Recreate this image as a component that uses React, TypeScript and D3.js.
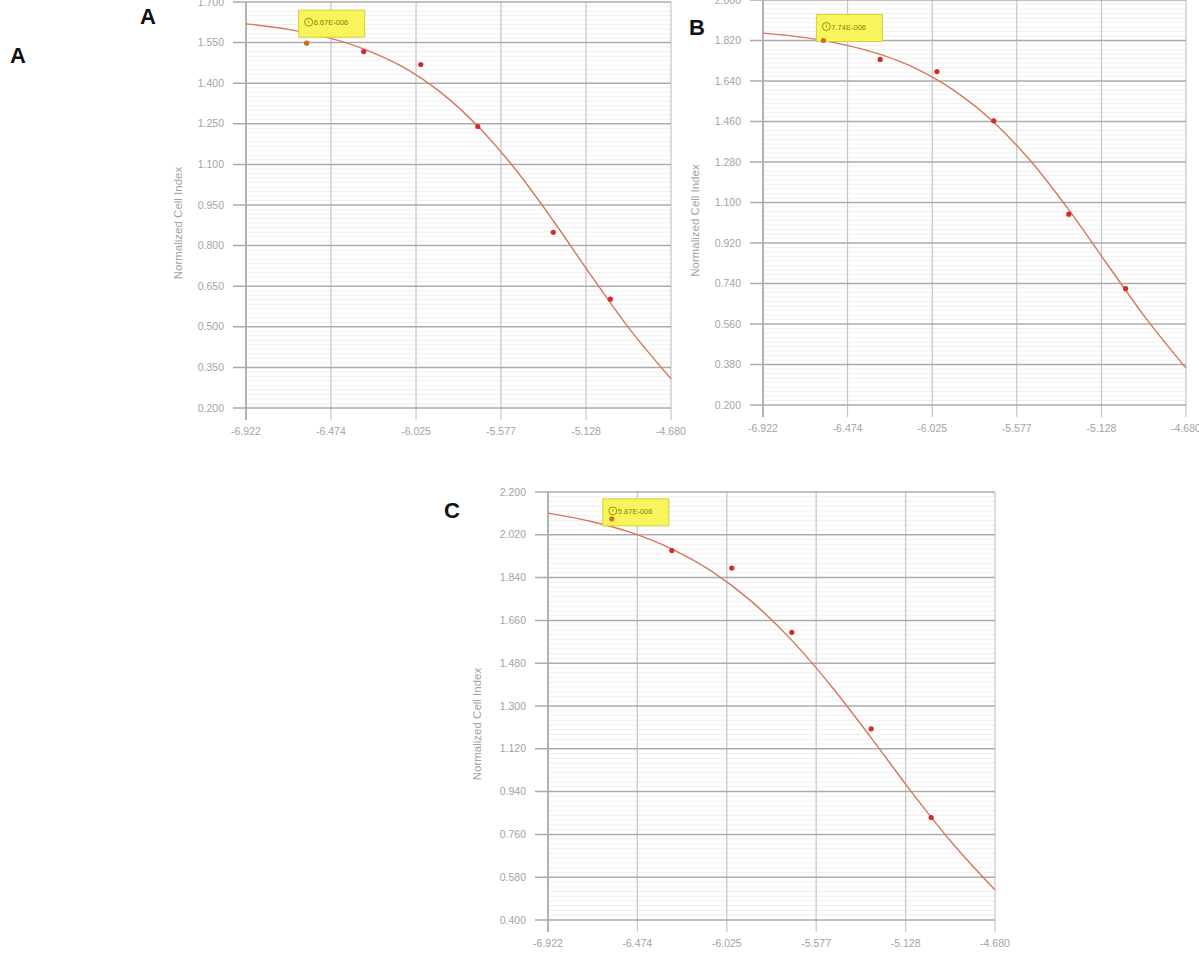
import React from "react";
import * as d3 from "d3";

// ---------- data ----------
const xTickValues = [-6.922, -6.474, -6.025, -5.577, -5.128, -4.68];
const xTickLabels = ["-6.922", "-6.474", "-6.025", "-5.577", "-5.128", "-4.680"];

// log10 of concentration (M) for the six doses
const doseLog = [-6.602, -6.301, -6.0, -5.699, -5.301, -5.0];

const cellIndexA = [1.548, 1.517, 1.469, 1.24, 0.849, 0.602];
const cellIndexB = [1.82, 1.736, 1.682, 1.463, 1.048, 0.717];
const cellIndexC = [2.087, 1.954, 1.88, 1.61, 1.204, 0.831];

// fitted curve
const curveX = [-6.922, -6.7, -6.5, -6.3, -6.1, -5.9, -5.7, -5.5, -5.3, -5.1, -4.9, -4.68];
const fitA = [1.619, 1.599, 1.57, 1.526, 1.462, 1.369, 1.242, 1.081, 0.891, 0.688, 0.493, 0.308];
const fitB = [1.853, 1.833, 1.803, 1.758, 1.691, 1.593, 1.458, 1.281, 1.066, 0.829, 0.594, 0.364];
const fitC = [2.111, 2.075, 2.028, 1.96, 1.866, 1.739, 1.577, 1.382, 1.165, 0.94, 0.729, 0.526];

const yTicksA = [0.2, 0.35, 0.5, 0.65, 0.8, 0.95, 1.1, 1.25, 1.4, 1.55, 1.7];
const yTicksB = [0.2, 0.38, 0.56, 0.74, 0.92, 1.1, 1.28, 1.46, 1.64, 1.82, 2.0];
const yTicksC = [0.4, 0.58, 0.76, 0.94, 1.12, 1.3, 1.48, 1.66, 1.84, 2.02, 2.2];

const ic50Labels = ["6.67E-006", "7.74E-006", "5.87E-006"];
const panelLetters = ["A", "B", "C"];
const yTitle = "Normalized Cell Index";

// ---------- layout ----------
const panels = [
  { left: 246, right: 671, top: 2, bottom: 408, values: cellIndexA, fit: fitA, yTicks: yTicksA, titleX: 178, tip: [-8, -33], letterPos: [140, 24] },
  { left: 763, right: 1186, top: 0, bottom: 405, values: cellIndexB, fit: fitB, yTicks: yTicksB, titleX: 695, tip: [-7, -26], letterPos: [689, 35] },
  { left: 548, right: 995, top: 492, bottom: 920, values: cellIndexC, fit: fitC, yTicks: yTicksC, titleX: 477, tip: [-9, -20], letterPos: [444, 518] },
];

const MINOR = 9;
const FONT = "Liberation Sans, Arial, sans-serif";
const LABEL = "#a3a3a3";

function Panel({ p, i }: { p: any; i: number }) {
  const x = d3.scaleLinear().domain([xTickValues[0], xTickValues[xTickValues.length - 1]]).range([p.left, p.right]);
  const yt = p.yTicks as number[];
  const y = d3.scaleLinear().domain([yt[0], yt[yt.length - 1]]).range([p.bottom, p.top]);
  const fmt = d3.format(".3f");
  const line = d3
    .line<number>()
    .x((_, k) => x(curveX[k]))
    .y((v) => y(v))
    .curve(d3.curveMonotoneX);

  const minors: number[] = [];
  for (let k = 0; k < yt.length - 1; k++) {
    for (let m = 1; m < MINOR; m++) minors.push(yt[k] + ((yt[k + 1] - yt[k]) * m) / MINOR);
  }
  const px0 = x(doseLog[0]);
  const py0 = y(p.values[0]);
  const tipX = px0 + p.tip[0];
  const tipY = py0 + p.tip[1];
  const midY = (p.top + p.bottom) / 2 + 18;

  return (
    <g>
      <rect x={p.left} y={p.top} width={p.right - p.left} height={p.bottom - p.top} fill="#fff" />
      {minors.map((v, k) => (
        <line key={"mn" + k} x1={p.left} x2={p.right} y1={y(v)} y2={y(v)} stroke="#f0f0f0" strokeWidth={1} />
      ))}
      {xTickValues.map((v, k) => (
        <line key={"vx" + k} x1={x(v)} x2={x(v)} y1={p.top} y2={p.bottom + 12} stroke={k === 0 ? "#9a9a9a" : "#c6c6c6"} strokeWidth={k === 0 ? 1.5 : 1.2} />
      ))}
      {yt.map((v, k) => (
        <line key={"hy" + k} x1={p.left - 13} x2={p.right} y1={y(v)} y2={y(v)} stroke="#ababab" strokeWidth={1.5} />
      ))}
      {yt.map((v, k) => (
        <text key={"yl" + k} x={p.left - 22} y={y(v)} dy="0.35em" textAnchor="end" fontSize={10.5} fill={LABEL} fontFamily={FONT}>
          {fmt(v)}
        </text>
      ))}
      {xTickValues.map((v, k) => (
        <text key={"xl" + k} x={x(v)} y={p.bottom + 27} textAnchor="middle" fontSize={10.5} fill={LABEL} fontFamily={FONT}>
          {xTickLabels[k]}
        </text>
      ))}
      <text
        transform={`translate(${p.titleX},${midY}) rotate(-90)`}
        textAnchor="middle"
        dy="0.35em"
        fontSize={11.5}
        fill={LABEL}
        fontFamily={FONT}
      >
        {yTitle}
      </text>
      <path d={line(p.fit) || ""} fill="none" stroke="#d5775c" strokeWidth={1.4} />
      <g>
        <rect x={tipX} y={tipY} width={66} height={27} fill="#f8f55c" stroke="#d6cf3a" strokeWidth={1} />
        <circle cx={tipX + 10} cy={tipY + 12} r={4} fill="none" stroke="#a08c10" strokeWidth={1} />
        <line x1={tipX + 10} x2={tipX + 10} y1={tipY + 10} y2={tipY + 13} stroke="#a08c10" strokeWidth={0.8} />
        <text x={tipX + 15} y={tipY + 15} fontSize={7.5} fill="#8a7e10" fontFamily={FONT}>
          {ic50Labels[i]}
        </text>
      </g>
      {p.values.map((v: number, k: number) => (
        <circle key={"pt" + k} cx={x(doseLog[k])} cy={y(v)} r={2.6} fill={k === 0 ? "#c8701a" : "#d42a2a"} />
      ))}
      <text x={p.letterPos[0]} y={p.letterPos[1]} fontSize={22} fontWeight="bold" fill="#111" fontFamily={FONT}>
        {panelLetters[i]}
      </text>
    </g>
  );
}

export default function App() {
  return (
    <svg width={1199} height={959} style={{ position: "absolute", left: 0, top: 0, background: "#fff" }}>
      <rect x={0} y={0} width={1199} height={959} fill="#fff" />
      {panels.map((p, i) => (
        <Panel key={i} p={p} i={i} />
      ))}
      <text x={10} y={63} fontSize={22} fontWeight="bold" fill="#111" fontFamily={FONT}>
        A
      </text>
    </svg>
  );
}
